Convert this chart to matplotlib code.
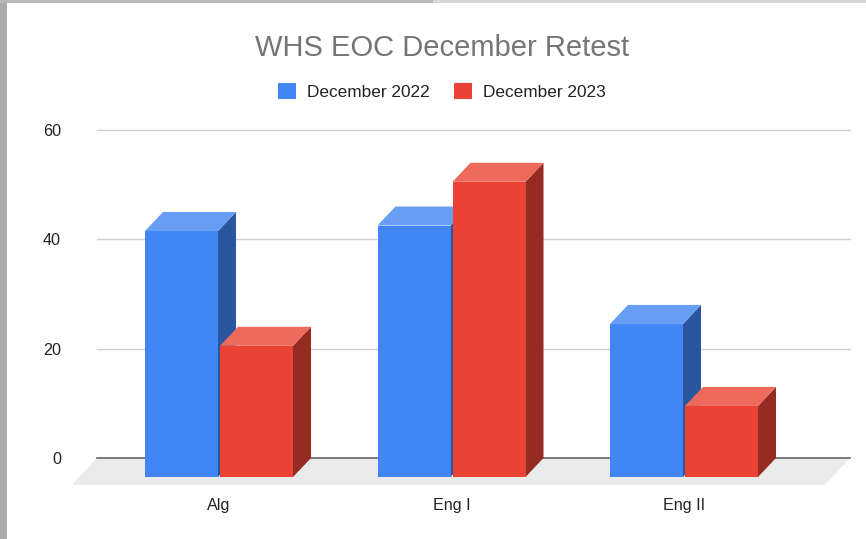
import matplotlib
matplotlib.use("Agg")
import matplotlib.pyplot as plt
from matplotlib.patches import Polygon, Rectangle
import numpy as np

plt.rcParams['font.family'] = ['Liberation Sans', 'DejaVu Sans']

categories = ["Alg", "Eng I", "Eng II"]
dec_2022 = [45, 46, 28]
dec_2023 = [24, 54, 13]
y_ticks = [0, 20, 40, 60]
series_names = ["December 2022", "December 2023"]

W, H = 866, 539
fig = plt.figure(figsize=(W / 100, H / 100), dpi=100, facecolor="white")

# textured-looking photo border behind the chart
fig.patches.append(Rectangle((0, 0), 7 / W, 1, transform=fig.transFigure, fc="#ababaf", ec="none"))
fig.patches.append(Rectangle((0, 1 - 3 / H), 0.5, 3 / H, transform=fig.transFigure, fc="#b9b9bc", ec="none"))
fig.patches.append(Rectangle((0.5, 1 - 2.5 / H), 0.5, 2.5 / H, transform=fig.transFigure, fc="#d6d6d8", ec="none"))

L, R, T, B = 97, 850, 130, 458
ax = fig.add_axes([L / W, 1 - B / H, (R - L) / W, (B - T) / H])
ax.set_facecolor("none")
step = 232.5
x0 = 219
ax.set_xlim((L - x0) / step, (R - x0) / step)
ax.set_ylim(0, 60)
ppy = (B - T) / 60

for s in ax.spines.values():
    s.set_visible(False)

ax.set_yticks(y_ticks)
ax.set_yticklabels([str(t) for t in y_ticks], fontsize=11.6, color="#222222")
ax.tick_params(axis="y", length=0, pad=26)
ax.set_xticks(range(len(categories)))
ax.set_xticklabels(categories, fontsize=11.6, color="#222222")
ax.tick_params(axis="x", length=0, pad=29)

for t in y_ticks[1:]:
    ax.axhline(t, color="#d0d0d0", lw=1.0, zorder=1, clip_on=False)
ax.axhline(0, color="#666666", lw=1.2, zorder=2, clip_on=False)

# floor
fdx, fdy = 25 / step, 27 / ppy
xl, xr = ax.get_xlim()
ax.add_patch(Polygon([(xl, 0), (xr, 0), (xr - fdx, -fdy), (xl - fdx, -fdy)],
                     closed=True, fc="#ebebeb", ec="none", zorder=1.5, clip_on=False))

# 3-D bars
dx, dy = 18 / step, 19 / ppy
bw = 73 / step
gap = 1 / step


def bar3d(xc, v, face, top, side, z):
    xa, xb = xc - bw / 2, xc + bw / 2
    ya, yb = -dy, v - dy
    ax.add_patch(Polygon([(xb, ya), (xb + dx, ya + dy), (xb + dx, yb + dy), (xb, yb)],
                         closed=True, fc=side, ec="none", zorder=z, clip_on=False))
    ax.add_patch(Polygon([(xa, yb), (xb, yb), (xb + dx, yb + dy), (xa + dx, yb + dy)],
                         closed=True, fc=top, ec="none", zorder=z, clip_on=False))
    ax.bar(xc, v, width=bw, bottom=ya, color=face, zorder=z + 0.1, clip_on=False)


colors = [("#4285f4", "#689df6", "#2a56a0"), ("#ea4335", "#ee6a5d", "#962b22")]
for i, (a, b) in enumerate(zip(dec_2022, dec_2023)):
    bar3d(i - bw / 2 - gap, a, *colors[0], 3 + i)
    bar3d(i + bw / 2 + gap, b, *colors[1], 3.5 + i)

fig.text(442 / W, 1 - 48 / H, "WHS EOC December Retest", fontsize=21.0, color="#757575",
         ha="center", va="center")

handles = [Rectangle((0, 0), 1, 1, fc=c[0], ec="none") for c in colors]
leg = fig.legend(handles, series_names, loc="center", bbox_to_anchor=(442 / W, 1 - 91.5 / H),
                 ncol=2, frameon=False, fontsize=12.4, handlelength=1.05, handleheight=1.05,
                 handletextpad=0.64, columnspacing=1.38, labelcolor="#222222",
                 borderpad=0, borderaxespad=0)

fig.savefig("out.png", dpi=100)
